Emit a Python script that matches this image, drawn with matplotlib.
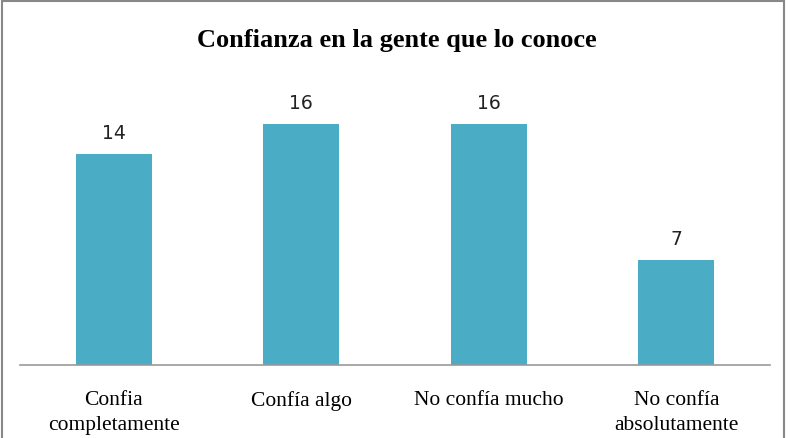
import matplotlib.pyplot as plt
from matplotlib.patches import Rectangle

categories = ['Confia\ncompletamente', 'Confía algo', 'No confía mucho', 'No confía\nabsolutamente']
values = [14, 16, 16, 7]

fig = plt.figure(figsize=(7.91, 4.39), dpi=100)
ax = fig.add_axes([20 / 791, 1 - 366 / 439, 750 / 791, 271 / 439])

x = range(len(categories))
bars = ax.bar(x, values, width=0.405, color='#4BACC6')
ax.set_xlim(-0.5, len(categories) - 0.5)
ax.set_ylim(0, 18)

for b, v in zip(bars, values):
    ax.text(b.get_x() + b.get_width() / 2, v + 0.8, str(v), ha='center', va='bottom',
            fontsize=13.5, family='DejaVu Sans', color='#222222')

ax.set_xticks(list(x))
ax.set_xticklabels(categories, family='Liberation Serif', fontsize=15.5, linespacing=1.45)
ax.tick_params(axis='x', length=0, pad=18)
ax.set_yticks([])
for s in ['top', 'right', 'left']:
    ax.spines[s].set_visible(False)
ax.spines['bottom'].set_color('#999999')
ax.spines['bottom'].set_linewidth(1.2)

fig.text(397 / 791, 1 - 41 / 439, 'Confianza en la gente que lo conoce', ha='center', va='center',
         family='Liberation Serif', fontweight='bold', fontsize=19)

fig.patches.append(Rectangle((2 / 791, -0.05), 782 / 791, 1.05 - 1.5 / 439, transform=fig.transFigure,
                             fill=False, edgecolor='#888888', linewidth=1.5))

fig.savefig('out.png', dpi=100)
